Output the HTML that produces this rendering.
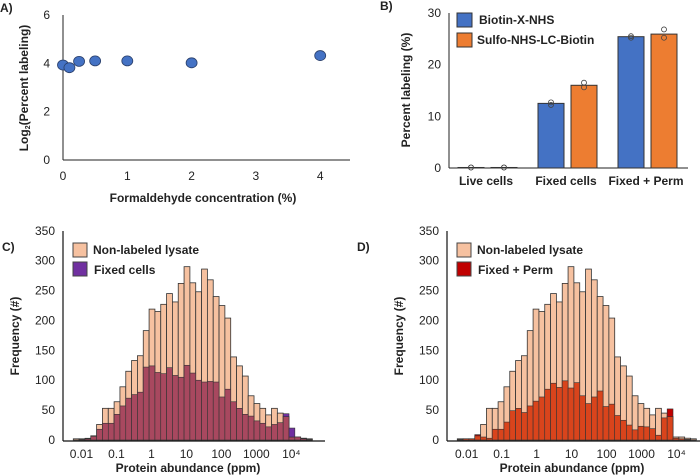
<!DOCTYPE html>
<html><head><meta charset="utf-8"><style>
body{margin:0;background:#fff;}
svg{display:block;font-family:"Liberation Sans",Arial,sans-serif;}
.t{font-size:12px;fill:#222;}
.b{font-size:12px;font-weight:bold;fill:#222;}
</style></head><body>
<svg id="fig" width="700" height="475" viewBox="0 0 700 475">
<g>
<text class="b" x="0" y="12">A)</text>
<line x1="63" y1="15" x2="63" y2="160" stroke="#222" stroke-width="1"/>
<line x1="63" y1="160" x2="350" y2="160" stroke="#222" stroke-width="1"/>
<text class="b" transform="translate(28,88) rotate(-90)" text-anchor="middle">Log<tspan font-size="7" dy="2">2</tspan><tspan dy="-2">(Percent labeling)</tspan></text>
<text class="b" x="203" y="202" text-anchor="middle">Formaldehyde concentration (%)</text>
<g id="a-marks"></g>
</g>
<g>
<text class="b" x="380" y="10">B)</text>
<line x1="449" y1="13" x2="449" y2="168" stroke="#222"/>
<line x1="449" y1="168" x2="688" y2="168" stroke="#222"/>
<text class="b" transform="translate(410,90) rotate(-90)" text-anchor="middle">Percent labeling (%)</text>
<g id="b-marks"></g>
<rect x="457" y="13" width="15" height="14" fill="#4472c4" stroke="#333"/>
<text class="b" x="479" y="24">Biotin-X-NHS</text>
<rect x="457" y="33" width="15" height="14" fill="#ed7d31" stroke="#333"/>
<text class="b" x="477" y="44">Sulfo-NHS-LC-Biotin</text>
</g>
<g id="c-panel">
<text class="b" x="2" y="251">C)</text>
</g>
<g id="d-panel">
<text class="b" x="357" y="251">D)</text>
</g>
</svg>
<script>
// Panel A data
const aConc=[0,0.1,0.25,0.5,1,2,4];
const aVals=[3.93,3.82,4.08,4.1,4.1,4.02,4.32];
const aXTicks=[0,1,2,3,4];
const aYTicks=[0,2,4,6];
// Panel B data
const bCats=['Live cells','Fixed cells','Fixed + Perm'];
const bBiotin=[0.1,12.5,25.4];
const bSulfo=[0.1,16.0,25.9];
const bBiotinPts=[[0.1,0.1],[12.2,12.7],[25.2,25.5]];
const bSulfoPts=[[0.1,0.1],[15.6,16.5],[25.2,26.8]];
const bYTicks=[0,10,20,30];
// Panels C/D histogram data (bins of 1/6 decade)
const lysate=[2,2,2,7,26,53,53,64,89,115,133,141,183,219,215,227,245,231,262,290,263,248,286,268,240,225,204,139,124,107,74,61,53,42,53,45,39,5,5,3,2];
const fixedCells=[0,1,3,6,18,28,28,43,57,70,76,80,122,124,113,111,121,108,105,125,112,100,97,98,97,72,85,64,53,43,40,32,28,22,26,29,44,20,5,2,1];
const fixedPerm=[1,2,2,9,5,3,18,18,30,49,53,46,57,65,72,85,95,88,99,87,96,74,61,72,82,56,60,41,33,25,17,23,22,19,8,37,52,3,2,1,0];
const hYTicks=[0,50,100,150,200,250,300,350];
const hXTickLabels=['0.01','0.1','1','10','100','1000','10⁴'];
const hXTickLogs=[-2,-1,0,1,2,3,4];

const NS='http://www.w3.org/2000/svg';
function mk(parent,tag,attrs){const e=document.createElementNS(NS,tag);for(const k in attrs)e.setAttribute(k,attrs[k]);parent.appendChild(e);return e;}

// Panel A
const gA=document.getElementById('a-marks');
const ax=v=>63+v*64.3, ay=v=>160-v*24.17;
aXTicks.forEach(t=>{const e=mk(gA,'text',{x:ax(t),y:180,'text-anchor':'middle',class:'t'});e.textContent=t;

});
aYTicks.forEach(t=>{const e=mk(gA,'text',{x:50,y:ay(t)+4,'text-anchor':'end',class:'t'});e.textContent=t;

});
aConc.forEach((c,i)=>{const e=mk(gA,'ellipse',{cx:ax(c),cy:ay(aVals[i]),rx:5.5,ry:5,fill:'#4472c4',stroke:'#2a3f6a','stroke-width':0.8});

});

// Panel B
const gB=document.getElementById('b-marks');
const by=v=>168-v*5.17;
const bCenters=[488,568,648];
bYTicks.forEach(t=>{const e=mk(gB,'text',{x:441,y:by(t)+4,'text-anchor':'end',class:'t'});e.textContent=t;

});
bCats.forEach((c,i)=>{
 const cx=bCenters[i];
 [[bBiotin,bBiotinPts,'#4472c4',cx-30],[bSulfo,bSulfoPts,'#ed7d31',cx+3]].forEach(([vals,pts,col,x0])=>{
  const r=mk(gB,'rect',{x:x0,y:by(vals[i]),width:26,height:168-by(vals[i]),fill:col,stroke:'#333','stroke-width':1});
  
  
  pts[i].forEach(p=>{const d=mk(gB,'circle',{cx:x0+13,cy:by(p),r:2.5,fill:'none',stroke:'#444','stroke-width':0.8});
  
  });
 });
 const e=mk(gB,'text',{x:cx-2,y:185,'text-anchor':'middle',class:'b'});e.textContent=c;
 
 
});

// Histograms
function hist(id,ox,bx0,idxOff,series,overlap,pure,legendLabel){
 const g=document.getElementById(id);
 const bw=5.83, hy=v=>440-v*0.5977;
 mk(g,'line',{x1:ox,y1:231,x2:ox,y2:441,stroke:'#111','stroke-width':1.2});
 mk(g,'line',{x1:ox,y1:441,x2:ox+262,y2:441,stroke:'#111','stroke-width':1.2});
 hYTicks.forEach(t=>{const e=mk(g,'text',{x:ox-8,y:hy(t)+4,'text-anchor':'end',class:'t'});e.textContent=t;
 
 });
 hXTickLogs.forEach((l,i)=>{const x=bx0+(idxOff+(l+2)*6)*bw;const e=mk(g,'text',{x:x,y:458,'text-anchor':'middle',class:'t'});e.textContent=hXTickLabels[i];
 
 });
 const yt=mk(g,'text',{transform:`translate(${ox-44},336) rotate(-90)`,'text-anchor':'middle',class:'b'});yt.textContent='Frequency (#)';
 
 
 const xt=mk(g,'text',{x:ox+125,y:472,'text-anchor':'middle',class:'b'});xt.textContent='Protein abundance (ppm)';
 
 
 lysate.forEach((v,i)=>{const r=mk(g,'rect',{x:bx0+i*bw,y:hy(v),width:bw,height:440-hy(v),fill:'#f6c1a0',stroke:'#333','stroke-width':0.8});
 
 });
 series.forEach((v,i)=>{if(v<=0)return;const m=Math.min(v,lysate[i]);
  const r=mk(g,'rect',{x:bx0+i*bw,y:hy(m),width:bw,height:440-hy(m),fill:overlap,stroke:'#333','stroke-width':0.6});
  
  
  if(v>lysate[i]){const p=mk(g,'rect',{x:bx0+i*bw,y:hy(v),width:bw,height:hy(m)-hy(v),fill:pure,stroke:'#333','stroke-width':0.6});
  
  }
 });
 const l1=mk(g,'rect',{x:ox+10,y:243,width:14,height:14,fill:'#f6c1a0',stroke:'#444'});
 
 
 const t1=mk(g,'text',{x:ox+30,y:254,class:'b'});t1.textContent='Non-labeled lysate';
 
 
 const l2=mk(g,'rect',{x:ox+10,y:262,width:14,height:14,fill:pure,stroke:'#444'});
 
 
 const t2=mk(g,'text',{x:ox+31,y:274,class:'b'});t2.textContent=legendLabel;
 
 
}
hist('c-panel',63,73.3,1.4,fixedCells,'#a8485f','#7030a0','Fixed cells');
hist('d-panel',447,457.3,1.6,fixedPerm,'#d9441c','#c00000','Fixed + Perm');
</script>
</body></html>
